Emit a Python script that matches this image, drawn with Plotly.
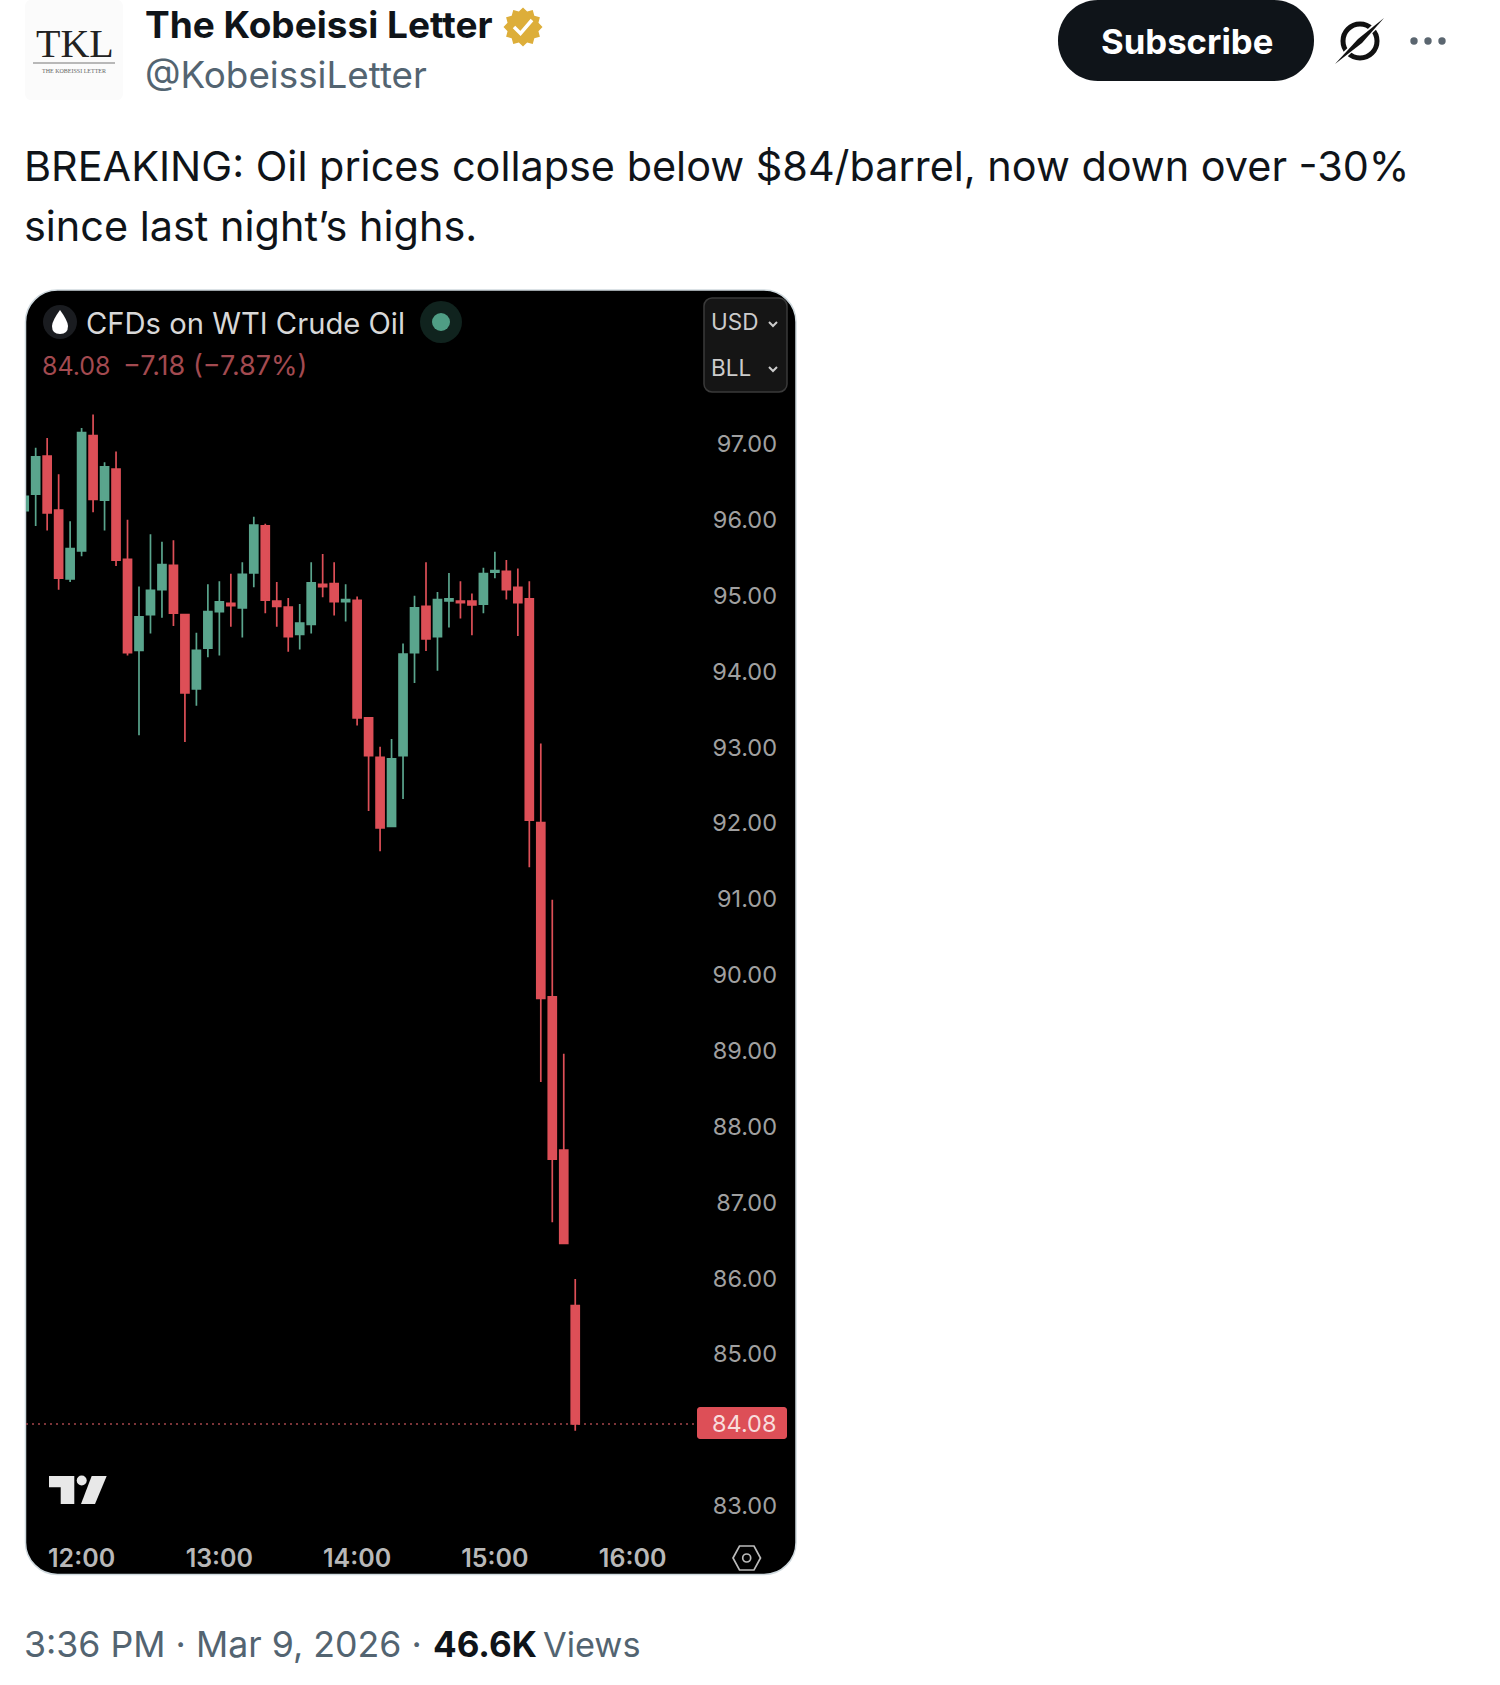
import math
import pandas as pd
import plotly.graph_objects as go

W, H = 1500, 1685

# 5 minute candles
times = pd.date_range('2026-03-09 11:35', periods=49, freq='5min')
opens = [96.12, 96.34, 96.84, 96.13, 95.22, 95.59, 97.11, 96.26, 96.67, 95.48,
         94.28, 94.75, 95.08, 95.40, 94.75, 93.77, 94.31, 94.79, 94.90, 94.84,
         95.30, 95.92, 94.93, 94.85, 94.49, 94.62, 95.15, 95.16, 94.92, 94.94,
         93.39, 92.87, 91.96, 92.89, 94.25, 94.86, 94.46, 94.93, 94.93, 94.93,
         94.89, 95.31, 95.32, 95.11, 94.96, 92.01, 89.71, 87.69, 85.64]
highs = [96.33, 96.95, 97.08, 96.60, 95.98, 97.21, 97.39, 96.76, 96.90, 96.00,
         95.12, 95.81, 95.71, 95.73, 94.75, 94.51, 95.15, 95.19, 95.29, 95.44,
         96.04, 95.95, 95.18, 94.97, 94.89, 95.44, 95.55, 95.44, 95.15, 94.99,
         93.39, 93.01, 93.11, 94.37, 95.00, 95.44, 95.05, 95.30, 95.19, 95.03,
         95.37, 95.58, 95.47, 95.36, 95.19, 93.05, 90.99, 88.96, 85.99]
lows = [96.10, 95.92, 95.86, 95.08, 95.18, 95.52, 96.10, 95.86, 95.39, 94.21,
        93.16, 94.50, 94.71, 94.60, 93.07, 93.55, 94.19, 94.21, 94.59, 94.45,
        95.11, 94.77, 94.59, 94.26, 94.29, 94.50, 94.98, 94.74, 94.66, 93.29,
        92.16, 91.63, 91.96, 92.32, 93.85, 94.27, 94.01, 94.58, 94.70, 94.48,
        94.77, 95.23, 94.95, 94.47, 91.42, 88.59, 86.74, 86.46, 83.99]
closes = [96.31, 96.83, 96.09, 95.23, 95.62, 97.15, 96.27, 96.70, 95.47, 94.25,
          94.72, 95.07, 95.41, 94.77, 93.72, 94.28, 94.79, 94.92, 94.87, 95.28,
          95.93, 94.94, 94.86, 94.46, 94.64, 95.17, 95.12, 94.92, 94.95, 93.39,
          92.89, 91.94, 92.85, 94.23, 94.84, 94.43, 94.95, 94.96, 94.91, 94.88,
          95.29, 95.33, 95.08, 94.91, 92.04, 89.69, 87.57, 86.46, 84.08]

price_ticks = [83, 85, 86, 87, 88, 89, 90, 91, 92, 93, 94, 95, 96, 97]
time_ticks = ['2026-03-09 12:00', '2026-03-09 13:00', '2026-03-09 14:00',
              '2026-03-09 15:00', '2026-03-09 16:00']
time_labels = ['12:00', '13:00', '14:00', '15:00', '16:00']
last_price = 84.08

RED = '#DD4F57'
GREEN = '#5AA58D'
GREY = '#536471'
INK = '#0F1419'
FONT = 'Inter'

# plot box in page pixels
LEFT, RIGHT, TOP, BOTTOM = 26, 780, 290, 1541
PX_97, PX_UNIT = 444, 75.85
PX_NOON, PX_MIN = 81.6, 2.296


def X(x):
    return x / W


def Y(y):
    return 1 - y / H


def poly(points, close=True):
    d = ' '.join(('M' if i == 0 else 'L') + f' {X(x):.5f} {Y(y):.5f}' for i, (x, y) in enumerate(points))
    return d + (' Z' if close else '')


def round_rect(x0, y0, x1, y1, r):
    c = r * 0.45  # distance from the corner to the bezier handles
    return (f'M {X(x0 + r):.5f} {Y(y0):.5f} L {X(x1 - r):.5f} {Y(y0):.5f} '
            f'C {X(x1 - c):.5f} {Y(y0):.5f} {X(x1):.5f} {Y(y0 + c):.5f} {X(x1):.5f} {Y(y0 + r):.5f} '
            f'L {X(x1):.5f} {Y(y1 - r):.5f} '
            f'C {X(x1):.5f} {Y(y1 - c):.5f} {X(x1 - c):.5f} {Y(y1):.5f} {X(x1 - r):.5f} {Y(y1):.5f} '
            f'L {X(x0 + r):.5f} {Y(y1):.5f} '
            f'C {X(x0 + c):.5f} {Y(y1):.5f} {X(x0):.5f} {Y(y1 - c):.5f} {X(x0):.5f} {Y(y1 - r):.5f} '
            f'L {X(x0):.5f} {Y(y0 + r):.5f} '
            f'C {X(x0):.5f} {Y(y0 + c):.5f} {X(x0 + c):.5f} {Y(y0):.5f} {X(x0 + r):.5f} {Y(y0):.5f} Z')


def path(d, fill=None, line=None, width=0, layer='below'):
    return dict(type='path', xref='paper', yref='paper', path=d, layer=layer,
                fillcolor=fill or 'rgba(0,0,0,0)', line=dict(color=line or 'rgba(0,0,0,0)', width=width))


def dot(cx, cy, r, fill=None, line=None, width=0, layer='below'):
    return dict(type='circle', xref='paper', yref='paper', layer=layer,
                x0=X(cx - r), x1=X(cx + r), y0=Y(cy + r), y1=Y(cy - r),
                fillcolor=fill or 'rgba(0,0,0,0)', line=dict(color=line or 'rgba(0,0,0,0)', width=width))


def note(x, y, text, size, color, anchor='left', weight=None, family=FONT):
    return dict(xref='paper', yref='paper', x=X(x), y=Y(y), text=text, showarrow=False,
                xanchor=anchor, yanchor='middle', borderpad=0,
                font=dict(family=family, size=size, color=color, weight=weight))


fig = go.Figure()

fig.add_trace(go.Candlestick(x=times, open=opens, high=highs, low=lows, close=closes,
                             whiskerwidth=0, showlegend=False,
                             increasing=dict(fillcolor=GREEN, line=dict(color=GREEN, width=1.7)),
                             decreasing=dict(fillcolor=RED, line=dict(color=RED, width=1.7))))

noon = pd.Timestamp('2026-03-09 12:00')
x_start = noon + pd.Timedelta(minutes=(LEFT - PX_NOON) / PX_MIN)
x_end = noon + pd.Timedelta(minutes=(RIGHT - PX_NOON) / PX_MIN)
y_low = 97 - (BOTTOM - PX_97) / PX_UNIT
y_high = 97 + (PX_97 - TOP) / PX_UNIT

shapes = [
    # avatar and tweet furniture
    path(round_rect(25, 0, 123, 100, 6), fill='#FBFBFB'),
    path(poly([(33, 63), (115, 63)], close=False), line='#777777', width=1.2),
    path(round_rect(1058, 0, 1314, 81, 40), fill=INK),
    dot(1360, 41, 17, line='#111111', width=5),
    path(poly([(1336, 63), (1384, 18)], close=False), line='#FFFFFF', width=6),
    path(poly([(1335, 64), (1358, 39), (1384, 18), (1362, 43)]), fill='#111111', layer='above'),
    dot(1414, 41, 3.7, fill='#5B6670'),
    dot(1428, 41, 3.7, fill='#5B6670'),
    dot(1442, 41, 3.7, fill='#5B6670'),
    # chart card
    path(round_rect(25.5, 290, 796, 1574.5, 32), fill='#000000', line='#CFD9DE', width=1.5),
    dot(60, 322, 17, fill='#1A1C20'),
    path(f'M {X(60):.5f} {Y(310):.5f} Q {X(68):.5f} {Y(321):.5f} {X(68):.5f} {Y(326):.5f} '
         f'Q {X(68):.5f} {Y(334):.5f} {X(60):.5f} {Y(334):.5f} Q {X(52):.5f} {Y(334):.5f} {X(52):.5f} {Y(326):.5f} '
         f'Q {X(52):.5f} {Y(321):.5f} {X(60):.5f} {Y(310):.5f} Z', fill='#FFFFFF'),
    dot(441, 322, 21, fill='#10231E'),
    dot(441, 322, 9, fill='#4F9E85'),
    path(round_rect(704, 298, 787, 392, 8), fill='#151515', line='#3A3A3A', width=1.5),
    path(poly([(769, 322), (773, 326), (777, 322)], close=False), line='#CCCCCC', width=2),
    path(poly([(769, 367), (773, 371), (777, 367)], close=False), line='#CCCCCC', width=2),
    # last price line and flag
    dict(type='line', xref='paper', yref='y', x0=X(LEFT), x1=X(696), y0=last_price, y1=last_price,
         layer='below', line=dict(color='#A5454B', width=1.5, dash='2px,4px')),
    path(round_rect(697, 1407, 787, 1439, 3), fill=RED),
    # TradingView logo
    path(poly([(49, 1476), (74.3, 1476), (74.3, 1504), (60.7, 1504), (60.7, 1487.3), (49, 1487.3)]), fill='#E8E8E8'),
    dot(81.7, 1480.5, 5, fill='#E8E8E8'),
    path(poly([(91.7, 1476), (106.7, 1476), (95, 1504), (81, 1504)]), fill='#E8E8E8'),
    # settings hexagon
    path(poly([(733, 1558), (739.5, 1546), (754, 1546), (760.5, 1558), (754, 1570), (739.5, 1570)]),
         line='#BBBBBB', width=1.7),
    dot(746.7, 1558, 4, line='#BBBBBB', width=1.7),
]

# verified badge
badge = [(523 + (19.5 if i % 2 == 0 else 16) * math.sin(i * math.pi / 12),
          27 - (19.5 if i % 2 == 0 else 16) * math.cos(i * math.pi / 12)) for i in range(24)]
shapes.append(path(poly(badge), fill='#DDAE3A'))
shapes.append(path(poly([(514, 27), (520.5, 33.5), (532, 20)], close=False), line='#FFFFFF', width=3.5))

annotations = [
    note(35, 44, 'TKL', 40, '#222222', family='Liberation Serif'),
    note(74, 71.5, 'THE KOBEISSI LETTER', 6, '#666666', anchor='center', family='Liberation Serif'),
    note(144, 24, 'The Kobeissi Letter', 37, INK, weight=700),
    note(144, 75, '@KobeissiLetter', 36.8, GREY),
    note(1187, 41, 'Subscribe', 34.7, '#FFFFFF', anchor='center', weight=700),
    note(23, 166, 'BREAKING: Oil prices collapse below $84/barrel, now down over -30%', 41.4, INK),
    note(23, 226, 'since last night’s highs.', 41.4, INK),
    note(85, 323, 'CFDs on WTI Crude Oil', 29.2, '#D8D8D8'),
    note(41, 366, '84.08', 25, '#A34A50'),
    note(122, 366, '−7.18 (−7.87%)', 27, '#A34A50'),
    note(710, 322, 'USD', 22.5, '#CCCCCC'),
    note(710, 368, 'BLL', 22.5, '#CCCCCC'),
    dict(xref='paper', yref='y', x=X(777), y=last_price, text=f'{last_price:.2f}', showarrow=False,
         xanchor='right', yanchor='middle', borderpad=0, font=dict(family=FONT, size=23.5, color='#F8DCDC')),
    note(23, 1644, '3:36 PM · Mar 9, 2026 ·', 35.7, GREY),
    note(432, 1644, '46.6K', 35, INK, weight=700),
    note(542, 1644, 'Views', 34.3, GREY),
]

fig.update_layout(
    width=W, height=H, margin=dict(l=0, r=0, t=0, b=0),
    paper_bgcolor='#FFFFFF', plot_bgcolor='rgba(0,0,0,0)',
    boxgap=0.165, boxgroupgap=0.165,
    showlegend=False, shapes=shapes, annotations=annotations,
    xaxis=dict(domain=[X(LEFT), X(RIGHT)], range=[x_start.isoformat(), x_end.isoformat()], type='date',
               rangeslider=dict(visible=False), showgrid=False, zeroline=False, showline=False, ticks='',
               tickmode='array', tickvals=time_ticks, ticktext=time_labels,
               tickfont=dict(family=FONT, size=25, color='#B8B8B8', weight=600)),
    yaxis=dict(domain=[Y(BOTTOM), Y(TOP)], range=[y_low, y_high], side='right', ticklabelposition='inside',
               showgrid=False, zeroline=False, showline=False, ticks='',
               tickmode='array', tickvals=price_ticks, tickformat='.2f',
               tickfont=dict(family=FONT, size=23.5, color='#A0A0A0')),
)

fig.write_html("out.html", post_script="document.body.style.margin='0';",
               config=dict(displayModeBar=False))
